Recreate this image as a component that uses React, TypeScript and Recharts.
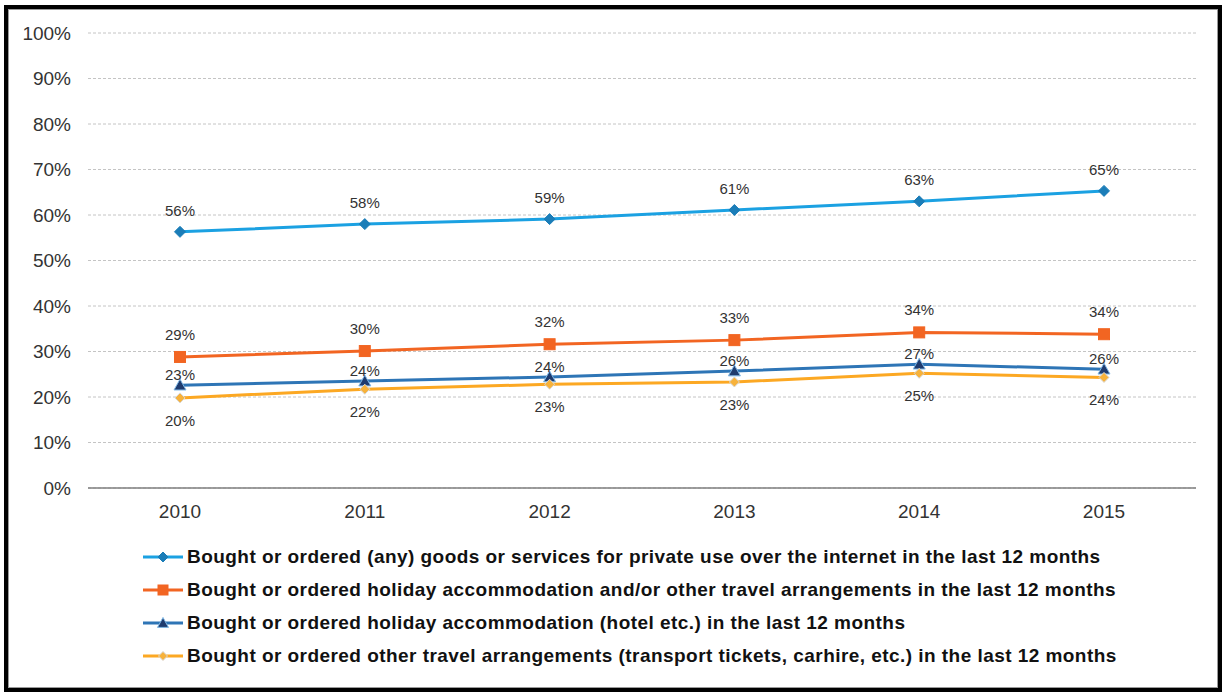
import { LineChart, Line, XAxis, YAxis, CartesianGrid, Legend, LabelList } from "recharts";

const years = ["2010", "2011", "2012", "2013", "2014", "2015"];
const anyGoods = [56.3, 58.0, 59.1, 61.1, 63.0, 65.3];
const holidayOrTravel = [28.8, 30.1, 31.6, 32.5, 34.2, 33.8];
const accommodation = [22.6, 23.5, 24.4, 25.7, 27.2, 26.1];
const otherTravel = [19.8, 21.7, 22.8, 23.3, 25.2, 24.3];
const yTicks = [0, 10, 20, 30, 40, 50, 60, 70, 80, 90, 100];

const seriesNames = [
  "Bought or ordered (any) goods or services for private use over the internet in the last 12 months",
  "Bought or ordered holiday accommodation and/or other travel arrangements in the last 12 months",
  "Bought or ordered holiday accommodation (hotel etc.) in the last 12 months",
  "Bought or ordered other travel arrangements (transport tickets, carhire, etc.) in the last 12 months",
];

const data = years.map((year, i) => ({
  year,
  anyGoods: anyGoods[i],
  holidayOrTravel: holidayOrTravel[i],
  accommodation: accommodation[i],
  otherTravel: otherTravel[i],
}));

type Shape = "diamond" | "square" | "triangle";

const series = [
  { key: "anyGoods", name: seriesNames[0], color: "#1ba1e2", shape: "diamond" as Shape, fill: "#1b7db8", stroke: "#1b7db8", size: 5.5, labelPos: "top", labelOffset: 16 },
  { key: "holidayOrTravel", name: seriesNames[1], color: "#f26522", shape: "square" as Shape, fill: "#f26522", stroke: "#f26522", size: 5.5, labelPos: "top", labelOffset: 17 },
  { key: "accommodation", name: seriesNames[2], color: "#2e75b6", shape: "triangle" as Shape, fill: "#1f3b6e", stroke: "#7fb8e6", size: 6, labelPos: "top", labelOffset: 5 },
  { key: "otherTravel", name: seriesNames[3], color: "#fca823", shape: "diamond" as Shape, fill: "#f7b23b", stroke: "#d8d8d8", size: 5, labelPos: "bottom", labelOffset: 17 },
];

const font = "'Liberation Sans', Arial, sans-serif";

function Marker({ cx, cy, shape, fill, stroke, size }: any) {
  if (cx == null || cy == null) return null;
  if (shape === "square") {
    return <rect x={cx - size} y={cy - size} width={size * 2} height={size * 2} fill={fill} stroke={stroke} strokeWidth={1} />;
  }
  if (shape === "triangle") {
    const pts = `${cx},${cy - size} ${cx + size},${cy + size * 0.8} ${cx - size},${cy + size * 0.8}`;
    return <polygon points={pts} fill={fill} stroke={stroke} strokeWidth={1} />;
  }
  const pts = `${cx},${cy - size} ${cx + size},${cy} ${cx},${cy + size} ${cx - size},${cy}`;
  return <polygon points={pts} fill={fill} stroke={stroke} strokeWidth={1} />;
}

function renderLegend() {
  return (
    <div style={{ paddingTop: 22, paddingLeft: 143, fontFamily: font }}>
      {series.map((s) => (
        <div key={s.key} style={{ height: 33, display: "flex", alignItems: "center" }}>
          <svg width={42} height={16} style={{ marginRight: 2 }}>
            <line x1={0} y1={8} x2={40} y2={8} stroke={s.color} strokeWidth={3} />
            <Marker cx={20} cy={8} shape={s.shape} fill={s.fill} stroke={s.stroke} size={s.size - 0.5} />
          </svg>
          <span style={{ fontSize: 19, fontWeight: "bold", color: "#111", whiteSpace: "nowrap", letterSpacing: 0.45 }}>
            {s.name}
          </span>
        </div>
      ))}
    </div>
  );
}

export default function App() {
  return (
    <div style={{ position: "absolute", left: 0, top: 0, width: 1224, height: 695, background: "#fff" }}>
      <div
        style={{
          position: "absolute",
          left: 4,
          top: 5,
          width: 1218,
          height: 687,
          boxSizing: "border-box",
          border: "4px solid #000",
          boxShadow: "inset 0 0 0 1px #9a9a9a",
        }}
      />
      <div style={{ position: "absolute", left: 0, top: 0 }}>
        <LineChart width={1224} height={695} data={data} margin={{ top: 33, right: 28, left: 0, bottom: 23 }}>
          <CartesianGrid vertical={false} stroke="#c4c4c4" strokeDasharray="3 2" />
          <XAxis
            dataKey="year"
            height={30}
            padding={{ left: 92, right: 92 }}
            tickLine={false}
            tickSize={0}
            tickMargin={17}
            axisLine={{ stroke: "#7f7f7f", strokeWidth: 1.5 }}
            tick={{ fontSize: 19, fill: "#333", fontFamily: font }}
          />
          <YAxis
            width={88}
            domain={[0, 100]}
            ticks={yTicks}
            interval={0}
            tickFormatter={(v: number) => `${v}%`}
            axisLine={false}
            tickLine={false}
            tickSize={0}
            tickMargin={17}
            tick={{ fontSize: 19, fill: "#333", fontFamily: font }}
          />
          <Legend verticalAlign="bottom" align="left" layout="horizontal" content={renderLegend} />
          {series.map((s) => (
            <Line
              key={s.key}
              dataKey={s.key}
              name={s.name}
              stroke={s.color}
              strokeWidth={3}
              isAnimationActive={false}
              dot={(p: any) => (
                <Marker key={`${s.key}-${p.index}`} cx={p.cx} cy={p.cy} shape={s.shape} fill={s.fill} stroke={s.stroke} size={s.size} />
              )}
              activeDot={false}
            >
              <LabelList
                dataKey={s.key}
                position={s.labelPos as any}
                offset={s.labelOffset}
                formatter={(v: any) => `${Math.round(Number(v))}%`}
                style={{ fontSize: 15, fill: "#333", fontFamily: font }}
              />
            </Line>
          ))}
        </LineChart>
      </div>
    </div>
  );
}
